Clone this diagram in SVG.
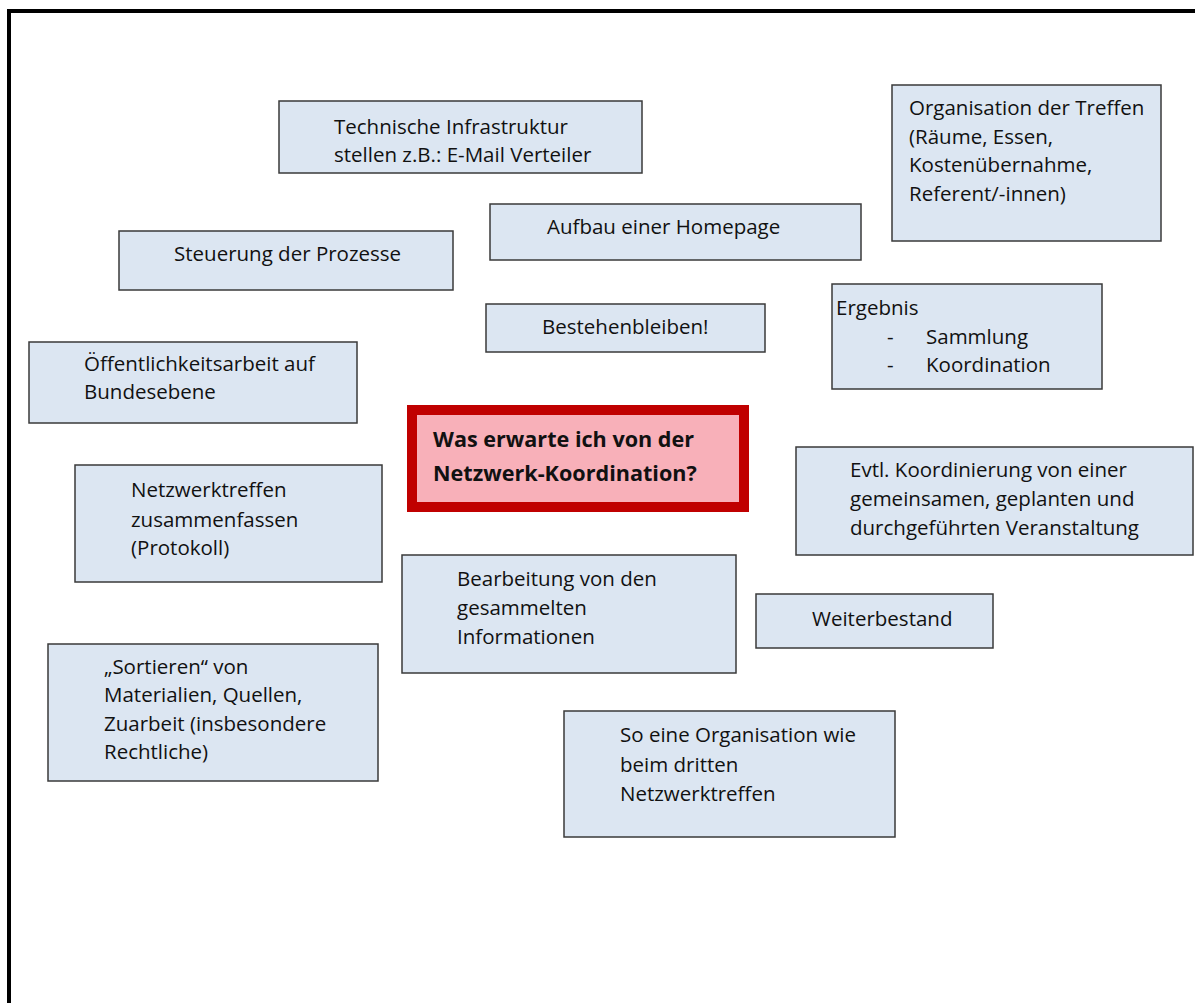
<svg xmlns="http://www.w3.org/2000/svg" width="1195" height="1003" viewBox="0 0 1195 1003">
<style>
.box{fill:#DCE6F2;stroke:#3a3a3a;stroke-width:1.5}
.t{font-family:"Open Sans","Liberation Sans",sans-serif;font-size:20.5px;fill:#111}
.b{font-family:"Open Sans","Liberation Sans",sans-serif;font-size:21.6px;font-weight:bold;fill:#111}
</style>
<rect width="1195" height="1003" fill="#fff"/>
<path d="M9,1003 V11 H1195" fill="none" stroke="#000" stroke-width="4"/>
<g id="connectors"></g>
<g id="n1"><rect class="box" x="279" y="101" width="363" height="72"/><text class="t" x="334" y="134">Technische Infrastruktur</text><text class="t" x="334" y="162">stellen z.B.: E-Mail Verteiler</text></g>
<g id="n2"><rect class="box" x="892" y="85" width="269" height="156"/><text class="t" x="909" y="115">Organisation der Treffen</text><text class="t" x="909" y="143.5">(Räume, Essen,</text><text class="t" x="909" y="172">Kostenübernahme,</text><text class="t" x="909" y="200.5">Referent/-innen)</text></g>
<g id="n3"><rect class="box" x="490" y="204" width="371" height="56"/><text class="t" x="547" y="234">Aufbau einer Homepage</text></g>
<g id="n4"><rect class="box" x="119" y="231" width="334" height="59"/><text class="t" x="174" y="261">Steuerung der Prozesse</text></g>
<g id="n5"><rect class="box" x="486" y="304" width="279" height="48"/><text class="t" x="542" y="334">Bestehenbleiben!</text></g>
<g id="n6"><rect class="box" x="832" y="284" width="270" height="105"/><text class="t" x="836" y="315">Ergebnis</text><text class="t" x="887" y="344">-</text><text class="t" x="926" y="344">Sammlung</text><text class="t" x="887" y="372">-</text><text class="t" x="926" y="372">Koordination</text></g>
<g id="n7"><rect class="box" x="29" y="342" width="328" height="81"/><text class="t" x="84" y="371">Öffentlichkeitsarbeit auf</text><text class="t" x="84" y="399">Bundesebene</text></g>
<g id="center"><rect x="412" y="410" width="332" height="97" fill="#F8B0B9" stroke="#C00000" stroke-width="10"/><text class="b" x="433" y="447">Was erwarte ich von der</text><text class="b" x="433" y="481">Netzwerk-Koordination?</text></g>
<g id="n9"><rect class="box" x="796" y="447" width="397" height="108"/><text class="t" x="850" y="477">Evtl. Koordinierung von einer</text><text class="t" x="850" y="506">gemeinsamen, geplanten und</text><text class="t" x="850" y="535">durchgeführten Veranstaltung</text></g>
<g id="n10"><rect class="box" x="75" y="465" width="307" height="117"/><text class="t" x="131" y="497">Netzwerktreffen</text><text class="t" x="131" y="527">zusammenfassen</text><text class="t" x="131" y="555">(Protokoll)</text></g>
<g id="n11"><rect class="box" x="402" y="555" width="334" height="118"/><text class="t" x="457" y="586">Bearbeitung von den</text><text class="t" x="457" y="615">gesammelten</text><text class="t" x="457" y="644">Informationen</text></g>
<g id="n12"><rect class="box" x="756" y="594" width="237" height="54"/><text class="t" x="812" y="626">Weiterbestand</text></g>
<g id="n13"><rect class="box" x="48" y="644" width="330" height="137"/><text class="t" x="104" y="674">„Sortieren“ von</text><text class="t" x="104" y="702">Materialien, Quellen,</text><text class="t" x="104" y="731">Zuarbeit (insbesondere</text><text class="t" x="104" y="759">Rechtliche)</text></g>
<g id="n14"><rect class="box" x="564" y="711" width="331" height="126"/><text class="t" x="620" y="742">So eine Organisation wie</text><text class="t" x="620" y="772">beim dritten</text><text class="t" x="620" y="801">Netzwerktreffen</text></g>
</svg>
